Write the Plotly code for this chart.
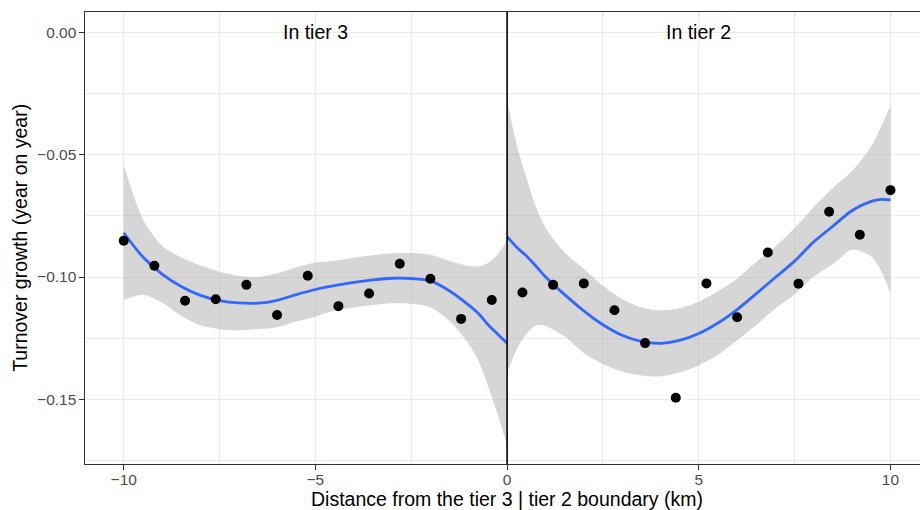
import plotly.graph_objects as go

# Binned observations: distance to the boundary (km) and year-on-year turnover growth
dist_tier3 = [-10.0, -9.2, -8.4, -7.6, -6.8, -6.0, -5.2, -4.4, -3.6, -2.8, -2.0, -1.2, -0.4]
growth_tier3 = [-0.0852, -0.0954, -0.1097, -0.1091, -0.1032, -0.1155, -0.0995,
                -0.1119, -0.1067, -0.0946, -0.1007, -0.1171, -0.1094]
dist_tier2 = [0.4, 1.2, 2.0, 2.8, 3.6, 4.4, 5.2, 6.0, 6.8, 7.6, 8.4, 9.2, 10.0]
growth_tier2 = [-0.1063, -0.1032, -0.1026, -0.1136, -0.1270, -0.1493, -0.1026,
                -0.1164, -0.0900, -0.1027, -0.0733, -0.0827, -0.0645]

# Smoothed fit and its confidence band, tier 3 side
smooth_x_tier3 = [-10, -9.5, -9, -8.5, -8, -7.5, -7, -6.5, -6, -5.5, -5, -4.5, -4,
                  -3.5, -3, -2.5, -2, -1.5, -1, -0.75, -0.5, -0.25, 0]
smooth_fit_tier3 = [-0.0819, -0.0918, -0.0988, -0.1039, -0.1075, -0.1096, -0.1106,
                    -0.1107, -0.1095, -0.1072, -0.1051, -0.1035, -0.1022, -0.1012,
                    -0.1005, -0.1006, -0.1016, -0.1057, -0.1115, -0.1149, -0.1194,
                    -0.1233, -0.1270]
smooth_hi_tier3 = [-0.0542, -0.0764, -0.0872, -0.0920, -0.0953, -0.0978, -0.0995,
                   -0.1001, -0.0985, -0.0961, -0.0941, -0.0933, -0.0921, -0.0911,
                   -0.0903, -0.0902, -0.0909, -0.0934, -0.0954, -0.0957, -0.0943,
                   -0.0908, -0.0851]
smooth_lo_tier3 = [-0.1094, -0.1072, -0.1104, -0.1158, -0.1197, -0.1213, -0.1218,
                   -0.1213, -0.1205, -0.1182, -0.1162, -0.1137, -0.1124, -0.1114,
                   -0.1107, -0.1109, -0.1124, -0.1179, -0.1275, -0.1341, -0.1444,
                   -0.1558, -0.1689]

# Smoothed fit and its confidence band, tier 2 side
smooth_x_tier2 = [0, 0.25, 0.5, 0.75, 1, 1.5, 2, 2.5, 3, 3.5, 4, 4.5, 5, 5.5, 6,
                  6.5, 7, 7.5, 8, 8.5, 9, 9.5, 9.75, 10]
smooth_fit_tier2 = [-0.0835, -0.0878, -0.0913, -0.0955, -0.0999, -0.1072, -0.1138,
                    -0.1195, -0.1238, -0.1263, -0.1271, -0.1259, -0.1231, -0.1188,
                    -0.1133, -0.1068, -0.1001, -0.0935, -0.0856, -0.0792, -0.0728,
                    -0.0691, -0.0683, -0.0685]
smooth_hi_tier2 = [-0.0279, -0.0459, -0.0592, -0.0712, -0.0799, -0.0900, -0.0966,
                   -0.1036, -0.1090, -0.1124, -0.1136, -0.1128, -0.1101, -0.1058,
                   -0.1007, -0.0939, -0.0875, -0.0800, -0.0714, -0.0636, -0.0567,
                   -0.0466, -0.0387, -0.0299]
smooth_lo_tier2 = [-0.1390, -0.1296, -0.1234, -0.1198, -0.1200, -0.1243, -0.1310,
                   -0.1355, -0.1386, -0.1402, -0.1406, -0.1390, -0.1361, -0.1318,
                   -0.1258, -0.1196, -0.1128, -0.1070, -0.0998, -0.0947, -0.0889,
                   -0.0916, -0.0972, -0.1068]

# Axis ticks
x_ticks = [-10, -5, 0, 5, 10]
x_tick_labels = ["\u221210", "\u22125", "0", "5", "10"]
x_minor = [-7.5, -2.5, 2.5, 7.5]
y_ticks = [0.0, -0.05, -0.10, -0.15]
y_tick_labels = ["0.00", "\u22120.05", "\u22120.10", "\u22120.15"]
y_minor = [-0.025, -0.075, -0.125, -0.175]

# Region labels
region_labels = ["In tier 3", "In tier 2"]
region_x = [-5, 5]
region_y = [0.0, 0.0]

FONT = "Liberation Sans, Arial, Helvetica, sans-serif"
BAND = "rgba(153,153,153,0.4)"
FIT = "#3366FF"
GRID = "#EBEBEB"

fig = go.Figure()

for xs, lo, hi, fit in [
    (smooth_x_tier3, smooth_lo_tier3, smooth_hi_tier3, smooth_fit_tier3),
    (smooth_x_tier2, smooth_lo_tier2, smooth_hi_tier2, smooth_fit_tier2),
]:
    fig.add_trace(go.Scatter(x=xs, y=hi, mode="lines",
                             line=dict(width=0, shape="spline", smoothing=0.8),
                             hoverinfo="skip", showlegend=False))
    fig.add_trace(go.Scatter(x=xs, y=lo, mode="lines", fill="tonexty",
                             fillcolor=BAND,
                             line=dict(width=0, shape="spline", smoothing=0.8),
                             hoverinfo="skip", showlegend=False))
    fig.add_trace(go.Scatter(x=xs, y=fit, mode="lines",
                             line=dict(color=FIT, width=2.8, shape="spline", smoothing=0.8),
                             showlegend=False))

fig.add_trace(go.Scatter(x=dist_tier3 + dist_tier2, y=growth_tier3 + growth_tier2,
                         mode="markers", marker=dict(color="black", size=10),
                         showlegend=False))

# Boundary line
fig.add_shape(type="line", x0=0, x1=0, xref="x", y0=0, y1=1, yref="paper",
              line=dict(color="black", width=1.6), layer="above")

for txt, xv, yv in zip(region_labels, region_x, region_y):
    fig.add_annotation(x=xv, y=yv, xref="x", yref="y", text=txt, showarrow=False,
                       font=dict(family=FONT, size=19.5, color="black"),
                       xanchor="center", yanchor="middle")

# Axis titles
fig.add_annotation(x=0, xref="x", y=-0.0785, yref="paper",
                   text="Distance from the tier 3 | tier 2 boundary (km)",
                   showarrow=False, xanchor="center", yanchor="middle",
                   font=dict(family=FONT, size=19.5, color="black"))
fig.add_annotation(x=-0.078, xref="paper", y=0.5, yref="paper",
                   text="Turnover growth (year on year)", textangle=-90,
                   showarrow=False, xanchor="center", yanchor="middle",
                   font=dict(family=FONT, size=19.5, color="black"))

fig.update_xaxes(range=[-11.01, 10.77], tickvals=x_ticks, ticktext=x_tick_labels,
                 showgrid=True, gridcolor=GRID, gridwidth=1.2, zeroline=False,
                 showline=True, linecolor="#333333", linewidth=1.1, mirror=True,
                 ticks="outside", ticklen=4.5, tickwidth=1.1, tickcolor="#333333",
                 ticklabelstandoff=-3,
                 tickfont=dict(family=FONT, size=15.5, color="#4D4D4D"),
                 minor=dict(tickvals=x_minor, showgrid=True, gridcolor=GRID,
                            gridwidth=0.6, ticks=""))
fig.update_yaxes(range=[-0.1764, 0.0083], tickvals=y_ticks, ticktext=y_tick_labels,
                 showgrid=True, gridcolor=GRID, gridwidth=1.2, zeroline=False,
                 showline=True, linecolor="#333333", linewidth=1.1, mirror=False,
                 ticks="outside", ticklen=4.5, tickwidth=1.1, tickcolor="#333333",
                 tickfont=dict(family=FONT, size=15.5, color="#4D4D4D"),
                 minor=dict(tickvals=y_minor, showgrid=True, gridcolor=GRID,
                            gridwidth=0.6, ticks=""))

fig.update_layout(width=920, height=510, margin=dict(l=85, r=0, t=12, b=46),
                  plot_bgcolor="white", paper_bgcolor="white",
                  font=dict(family=FONT), showlegend=False)

fig.write_html("out.html")
